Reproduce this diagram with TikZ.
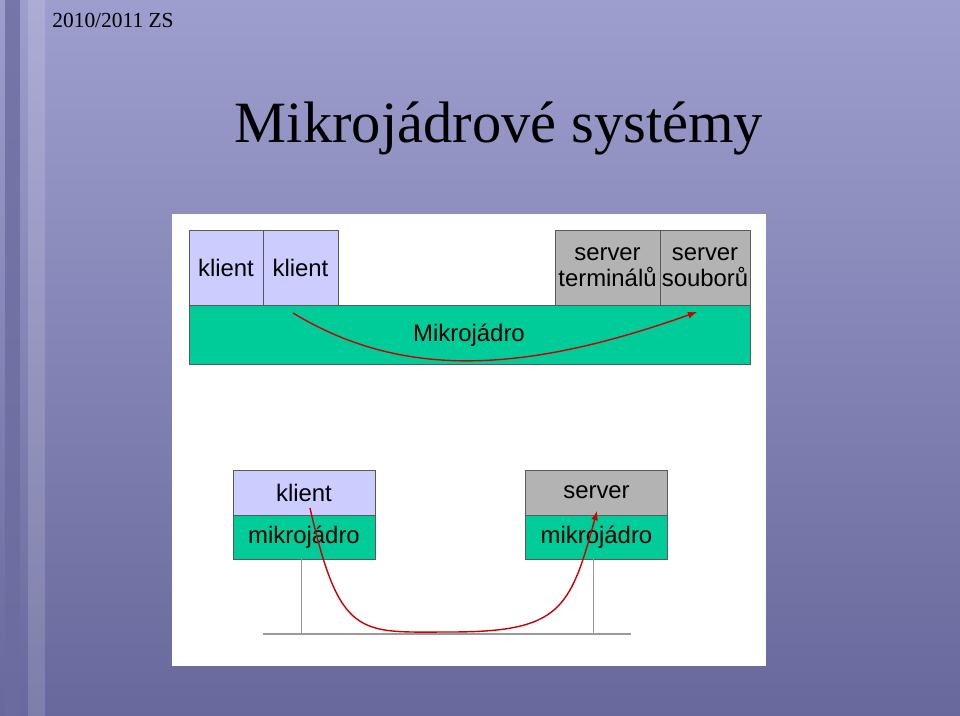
\documentclass[tikz,border=0pt]{standalone}
\usepackage{fontspec}
\setmainfont{Liberation Serif}
\newfontfamily\boxfont{Liberation Sans}
\definecolor{lila}{HTML}{CCCCFF}
\definecolor{zelena}{HTML}{00CC99}
\definecolor{seda}{HTML}{B3B3B3}
\definecolor{pozhore}{RGB}{158,158,206}
\definecolor{pozdole}{RGB}{104,104,156}
\definecolor{pruh}{RGB}{108,108,160}
\tikzset{
  blok/.style={rectangle, draw=gray!70!black, line width=0.4pt, inner sep=0pt, font=\boxfont\fontsize{13.6}{15}\selectfont, align=center},
  sip/.style={->,>=latex, red!80!black, line width=0.8pt},
}
\begin{document}
\begin{tikzpicture}[x=0.02cm,y=-0.02cm]
				% pozadi
				\useasboundingbox (0,0) rectangle (960,716);
				\shade[top color=pozhore, bottom color=pozdole] (0,0) rectangle (960,716);
				\fill[pruh, opacity=0.8] (5,0) rectangle (20,716);
				\fill[white, opacity=0.15] (28,0) rectangle (45,716);
				\node[anchor=west, inner sep=0pt, font=\fontsize{12.2}{14}\selectfont] (rok) at (52,20) {2010/2011 ZS};
				\node[font=\fontsize{33.3}{38}\selectfont] (nadpis) at (499,128) {Mikrojádrové systémy};
				\fill[white] (172,214) rectangle (766,666);
				% monoliticky pohled
				\node[blok, fill=lila, minimum width=1.48cm, minimum height=1.5cm] (K1) at (226,267.5) {klient};
				\node[blok, fill=lila, minimum width=1.5cm, minimum height=1.5cm] (K2) at (300.5,267.5) {klient};
				\node[blok, fill=seda, minimum width=2.1cm, minimum height=1.5cm] (ST) at (607.5,267.5) {server\\terminálů};
				\node[blok, fill=seda, minimum width=1.8cm, minimum height=1.5cm] (SS) at (705,267.5) {server\\souborů};
				\node[blok, fill=zelena, minimum width=11.22cm, minimum height=1.18cm] (MJ) at (469.5,334.5) {};
				\node[font=\boxfont\fontsize{13.6}{15}\selectfont] (MJtext) at (469,335) {Mikrojádro};
				\coordinate (a1) at (293,313);
				\coordinate (a2) at (697,312);
				\draw[sip] (a1) .. controls (400,378) and (520,375) .. (a2);
				% distribuovany pohled
				\node[blok, fill=lila, minimum width=2.84cm, minimum height=0.9cm] (KL) at (304,492.5) {klient};
				\node[blok, fill=zelena, minimum width=2.84cm, minimum height=0.88cm] (KM) at (304,537) {mikrojádro};
				\node[blok, fill=seda, minimum width=2.84cm, minimum height=0.9cm] (SV) at (596.5,492.5) {server};
				\node[blok, fill=zelena, minimum width=2.84cm, minimum height=0.88cm] (SM) at (596.5,537) {mikrojádro};
				\coordinate (s1) at (301,634);
				\coordinate (s2) at (593,634);
				\draw[gray!80] (KM.south -| s1) -- (s1);
				\draw[gray!80] (SM.south -| s2) -- (s2);
				\draw[gray!80, line width=0.8pt] (263,634) -- (631,634);
				\coordinate (b1) at (310,508);
				\coordinate (b2) at (597,511);
				\draw[sip] (b1) .. controls (340,640) and (360,632) .. (450,632) .. controls (560,632) and (570,610) .. (b2);
			\end{tikzpicture}
\end{document}
